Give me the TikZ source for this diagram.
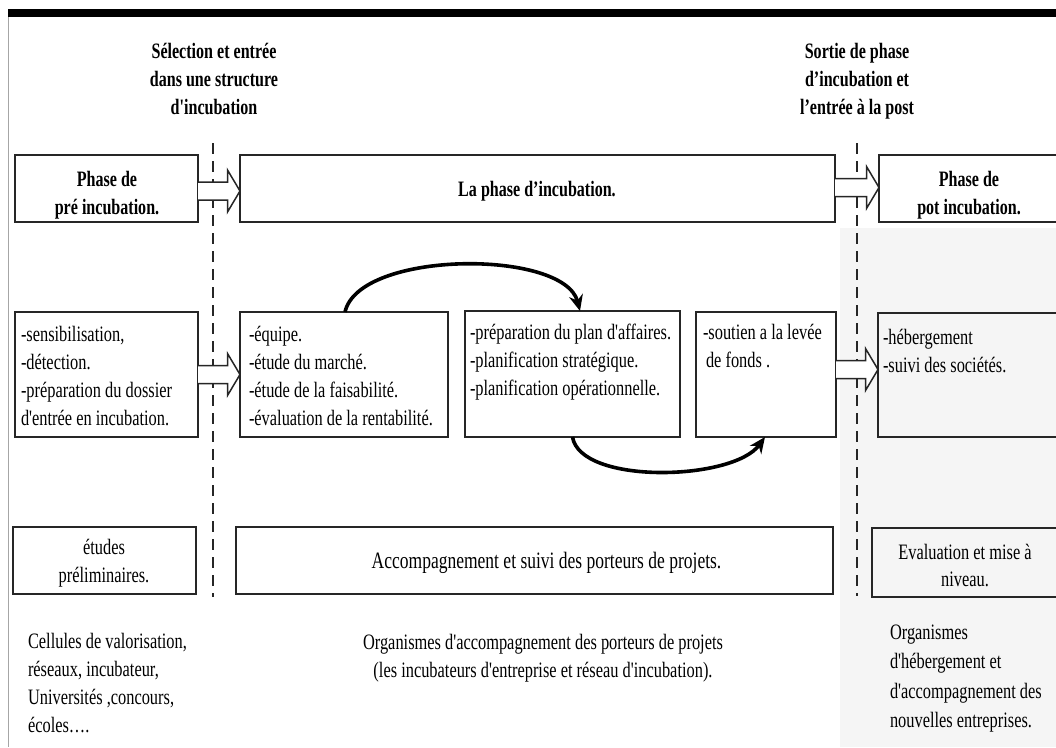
\documentclass[tikz,border=0pt]{standalone}
\usepackage{fontspec}
\setmainfont{Liberation Serif}[FakeStretch=0.745, Ligatures=TeXOff, BoldFeatures={FakeStretch=0.73}]
\usetikzlibrary{calc,arrows.meta}
\newcommand\mystrut{\rule{0pt}{16.5pt}}
\newcommand\blockarr[3]{%
  \draw[barr] let \p1=(#1.east), \p2=(#2.west) in
    (\x1,\y2+#3+9pt) -- (\x2-12.5pt,\y2+#3+9pt) -- (\x2-12.5pt,\y2+#3+21pt) -- (\x2,\y2+#3)
    -- (\x2-12.5pt,\y2+#3-21pt) -- (\x2-12.5pt,\y2+#3-9pt) -- (\x1,\y2+#3-9pt);}
\begin{document}
\begin{tikzpicture}[x=1pt,y=-1pt,
  every node/.style={inner sep=0pt, outer sep=0pt, font=\fontsize{22}{28.3}\selectfont},
  box/.style={draw=black!85, line width=1.7pt, rectangle},
  bt/.style={font=\fontsize{22}{28.3}\selectfont\bfseries, align=center, anchor=north},
  lt/.style={align=left, anchor=north west},
  ct/.style={align=center, anchor=north},
  dashsep/.style={draw=black!85, line width=1.8pt, dash pattern=on 11pt off 7pt},
  barr/.style={draw=black!85, line width=1.5pt, fill=white, line join=miter},
  carr/.style={draw=black, line width=3.6pt, -{Stealth[length=16pt,width=14pt]}}]
\useasboundingbox (0,0) rectangle (1056,747);
\fill[black!4] (840,228) rectangle (1056,747);
\fill[black] (8,9) rectangle (1056,17);
\draw[black!35, line width=1pt] (8.5,17) -- (8.5,747);

% headings
\node[bt] (h1) at (214,41.5) {\mystrut Sélection et entrée\\dans une structure\\d'incubation};
\node[bt] (h2) at (857,41.5) {\mystrut Sortie de phase\\d’incubation et\\l’entrée à la post};

% dashed separators
\coordinate (s1) at (213,143); \coordinate (s1e) at (213,597);
\coordinate (s2) at (857,143); \coordinate (s2e) at (857,596);
\draw[dashsep] (s1) -- (s1e);
\draw[dashsep] (s2) -- (s2e);

% row 1
\node[box, minimum width=183, minimum height=67] (p1) at (106.5,188.5) {};
\node[box, minimum width=595, minimum height=67] (p2) at (537.5,188.5) {};
\node[box, minimum width=180, minimum height=67] (p3) at (969,188.5) {};
\node[bt] (t1) at (107,169.5) {\mystrut Phase de\\pré incubation.};
\node[bt] (t2) at (537,179.5) {\mystrut La phase d’incubation.};
\node[bt] (t3) at (969,169.5) {\mystrut Phase de\\pot incubation.};

% row 2
\node[box, minimum width=183, minimum height=125] (a) at (106.5,374.5) {};
\node[box, minimum width=208, minimum height=125] (b) at (344,374.5) {};
\node[box, minimum width=215, minimum height=126] (c) at (572.5,374) {};
\node[box, minimum width=140, minimum height=125] (d) at (766,374.5) {};
\node[box, minimum width=181, minimum height=124] (e) at (968.5,375) {};
\node[lt] (ta) at (21,324.5) {\mystrut-sensibilisation,\\-détection.\\-préparation du dossier\\d'entrée en incubation.};
\node[lt] (tb) at (249,324.5) {\mystrut-équipe.\\-étude du marché.\\-étude de la faisabilité.\\-évaluation de la rentabilité.};
\node[lt] (tc) at (470,322.5) {\mystrut-préparation du plan d'affaires.\\-planification stratégique.\\-planification opérationnelle.};
\node[lt] (td) at (703,322.5) {\mystrut-soutien a la levée\\\hspace*{3pt}de fonds .};
\node[lt] (te) at (883,327.5) {\mystrut-hébergement\\-suivi des sociétés.};

% row 3
\node[box, minimum width=183, minimum height=67] (r1) at (104.5,560.5) {};
\node[box, minimum width=597, minimum height=67] (r2) at (534.5,560.5) {};
\node[box, minimum width=187, minimum height=69] (r3) at (965.5,562.5) {};
\node[ct] (u1) at (104,537.5) {\mystrut études\\préliminaires.};
\node[ct, font=\fontsize{23.5}{28.3}\selectfont] (u2) at (546.5,552) {\mystrut Accompagnement et suivi des porteurs de projets.};
\node[ct, font=\fontsize{22}{27}\selectfont] (u3) at (965,542.5) {\mystrut Evaluation et mise à\\niveau.};

% bottom texts
\node[lt] (v1) at (28,631.5) {\mystrut Cellules de valorisation,\\réseaux, incubateur,\\Universités ,concours,\\écoles….};
\node[ct] (v2) at (543,632.5) {\mystrut Organismes d'accompagnement des porteurs de projets\\(les incubateurs d'entreprise et réseau d'incubation).};
\node[lt, font=\fontsize{22}{29.5}\selectfont] (v3) at (890,622.5) {\mystrut Organismes\\d'hébergement et\\d'accompagnement des\\nouvelles entreprises.};

% block arrows
\blockarr{p1}{p2}{-2.5pt}
\blockarr{p2}{p3}{1pt}
\blockarr{a}{b}{0pt}
\blockarr{d}{e}{5.5pt}

% curved arrows
\draw[carr] ($(b.north)+(1,0)$) .. controls +(14,-62) and +(-16,-62) .. ($(c.north)+(7.5,0)$);
\draw[carr] (c.south) .. controls +(8,48) and +(-32,44) .. ($(d.south)+(-1,0)$);
\end{tikzpicture}
\end{document}
